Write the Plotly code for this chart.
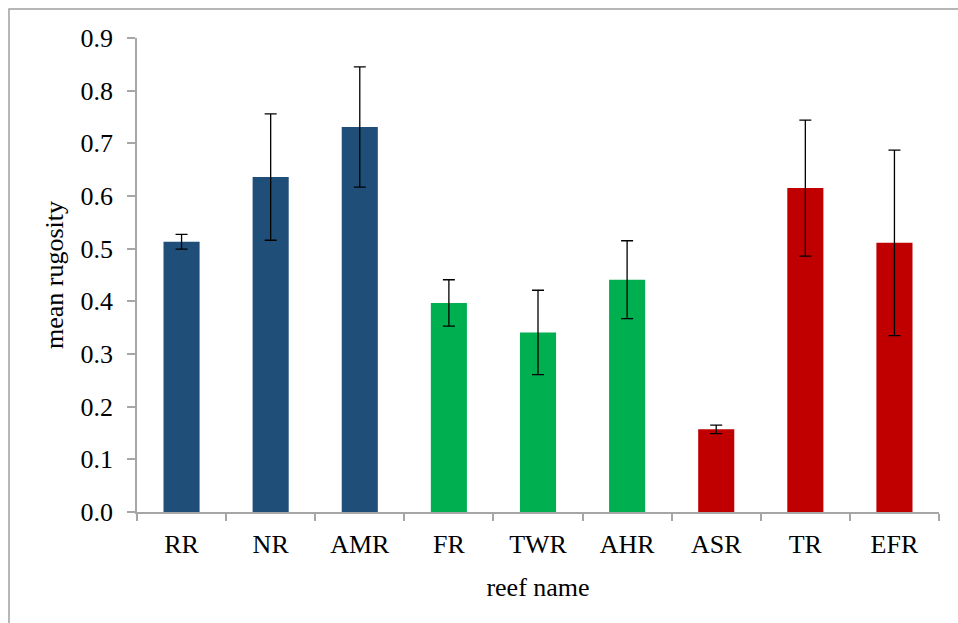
import plotly.graph_objects as go

reefs = ["RR", "NR", "AMR", "FR", "TWR", "AHR", "ASR", "TR", "EFR"]
mean_rugosity = [0.513, 0.636, 0.731, 0.397, 0.341, 0.441, 0.157, 0.615, 0.511]
error = [0.014, 0.120, 0.114, 0.044, 0.080, 0.074, 0.008, 0.129, 0.176]
bar_colors = ["#1F4E79"] * 3 + ["#00B050"] * 3 + ["#C00000"] * 3

serif = "Liberation Serif, Times New Roman, serif"
axis_grey = "#A6A6A6"
fsize = 26

fig = go.Figure(
    go.Bar(
        x=reefs,
        y=mean_rugosity,
        marker=dict(color=bar_colors, line=dict(width=0)),
        width=0.405,
        error_y=dict(type="data", array=error, visible=True,
                     color="black", thickness=1.3, width=6),
    )
)

fig.update_layout(
    width=958,
    height=623,
    paper_bgcolor="white",
    plot_bgcolor="white",
    margin=dict(l=137, r=19, t=38, b=111),
    showlegend=False,
    font=dict(family=serif, color="black", size=fsize),
    shapes=[
        dict(type="rect", xref="paper", yref="paper",
             x0=-0.1596, x1=1.1, y0=-0.4, y1=1.0612,
             line=dict(color="#A0A0A0", width=1.5), layer="below"),
    ],
)

fig.update_xaxes(
    showline=True, linecolor=axis_grey, linewidth=1.5,
    ticks="outside", tickson="boundaries", ticklen=7,
    tickcolor=axis_grey, tickwidth=1.5, ticklabelstandoff=8,
    tickfont=dict(family=serif, size=fsize),
    title=dict(text="reef name", font=dict(family=serif, size=fsize), standoff=20),
    showgrid=False, zeroline=False,
)

fig.update_yaxes(
    range=[0, 0.9], dtick=0.1, tickformat=".1f",
    showline=True, linecolor=axis_grey, linewidth=1.5,
    ticks="outside", ticklen=8, tickcolor=axis_grey, tickwidth=1.5,
    ticklabelstandoff=9,
    tickfont=dict(family=serif, size=fsize),
    title=dict(text="mean rugosity", font=dict(family=serif, size=fsize), standoff=9),
    showgrid=False, zeroline=False,
)

fig.write_html("out.html")
